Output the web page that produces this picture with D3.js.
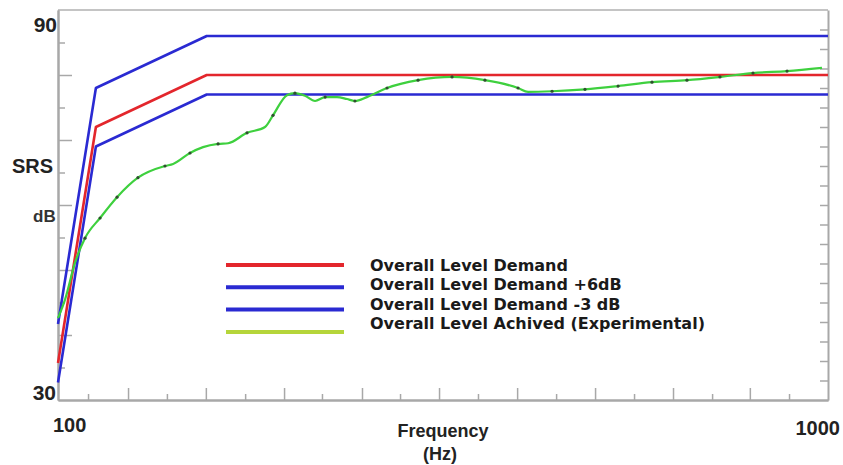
<!DOCTYPE html>
<html>
<head>
<meta charset="utf-8">
<script src="https://cdn.jsdelivr.net/npm/d3@7"></script>
<style>
body { margin: 0; background: #fff; }
svg { display: block; }
.lbl { font-family: "Liberation Sans", Arial, sans-serif; font-weight: bold; fill: #222; }
.leg { font-family: "DejaVu Sans", sans-serif; font-weight: bold; font-size: 16px; fill: #1a1a1a; }
</style>
</head>
<body>
<div id="chart"></div>
<script>
//
// SRS demand vs achieved level, log frequency axis
//

// demand profile: breakpoints (Hz) and levels (dB)
var demandFreq = [100, 112, 156, 1000];
var demandDb   = [35.7, 72, 80, 80];
var plus6Db    = [41.7, 78, 86, 86];
var minus3Db   = [32.7, 69, 77, 77];

// achieved (experimental) curve
var achievedFreq = [100, 102.1, 105.2, 108.4, 113.4, 119.3, 127.0, 137.7, 141.1, 148.4,
	154.3, 161.4, 166.3, 176.0, 185.7, 190.2, 198.3, 203.1, 209.3, 215.7,
	222.3, 230.3, 237.3, 243.0, 251.9, 267.5, 293.5, 324.9, 358.5, 395.8,
	407.8, 438.2, 483.5, 533.8, 590.8, 655.9, 723.9, 799.1, 884.7, 982.2];
var achievedDb = [42.6, 45.4, 51.1, 54.9, 58.0, 61.2, 64.2, 66.0, 66.3, 68.0,
	68.9, 69.4, 69.5, 71.1, 72.0, 73.8, 76.9, 77.2, 76.8, 76.0,
	76.6, 76.6, 76.3, 76.0, 76.6, 78.0, 79.2, 79.7, 79.2, 78.0,
	77.4, 77.5, 77.8, 78.3, 78.9, 79.2, 79.7, 80.3, 80.6, 81.1];
// points that carry a small dot marker
var markerFreq = [108.4, 113.4, 119.3, 127.0, 137.7, 148.4, 161.4, 176.0, 190.2, 203.1,
	222.3, 243.0, 267.5, 293.5, 324.9, 358.5, 395.8, 438.2, 483.5, 533.8,
	590.8, 655.9, 723.9, 799.1, 884.7];

// axis ticks
var yMajorTicks = [40, 50, 60, 70, 80];
var yMinorTicks = [35, 45, 55, 65, 75, 85];
var xMajorTicks = [123.3, 155.6, 196.6, 248.2, 312.5, 394.7, 498.3, 629.1, 791.6];
var xMinorTicks = [109.4, 138.5, 175.0, 220.2, 278.1, 351.1, 443.5, 559.9, 707.1, 890.0];
var rightTicks = d3.range(1, 20);

var legendLabels = ["Overall Level Demand", "Overall Level Demand +6dB",
	"Overall Level Demand -3 dB", "Overall Level Achived (Experimental)"];

var W = 843, H = 465;
var margin = {top: 10, right: 15, bottom: 65, left: 58};
var width = W - margin.left - margin.right;
var height = H - margin.top - margin.bottom;

var x = d3.scaleLog().domain([100, 1000]).range([0, width]);
var y = d3.scaleLinear().domain([30, 90]).range([height, 0]);
var yr = d3.scaleLinear().domain([0, 20]).range([height, 0]);

var svg = d3.select("#chart").append("svg")
	.attr("width", W)
	.attr("height", H);

var g = svg.append("g")
	.attr("transform", "translate(" + margin.left + "," + margin.top + ")");

var axisColor = "#a8a8a8";

// frame lines
g.append("line").attr("x1", 0).attr("x2", width).attr("y1", 0).attr("y2", 0)
	.attr("stroke", "#c4c4c4").attr("stroke-width", 2);

// axes with ticks pointing inward, no labels
function styleAxis(sel) {
	sel.select(".domain").attr("stroke", axisColor).attr("stroke-width", 2);
	sel.selectAll(".tick line").attr("stroke", axisColor).attr("stroke-width", 1.5);
	sel.selectAll(".tick text").remove();
}

g.append("g").call(d3.axisRight(y).tickValues(yMajorTicks).tickSize(14).tickSizeOuter(0)).call(styleAxis);
g.append("g").call(d3.axisRight(y).tickValues(yMinorTicks).tickSize(7).tickSizeOuter(0)).call(styleAxis);

// bottom axis
g.append("g").attr("transform", "translate(0," + height + ")")
	.call(d3.axisTop(x).tickValues(xMajorTicks).tickSize(12).tickSizeOuter(0)).call(styleAxis);
g.append("g").attr("transform", "translate(0," + height + ")")
	.call(d3.axisTop(x).tickValues(xMinorTicks).tickSize(6).tickSizeOuter(0)).call(styleAxis);

// right axis with its own fine ticks
g.append("g").attr("transform", "translate(" + width + ",0)")
	.call(d3.axisLeft(yr).tickValues(rightTicks).tickSize(8).tickSizeOuter(0)).call(styleAxis);

// demand lines
var line = d3.line()
	.x(function(d) { return x(d[0]); })
	.y(function(d) { return y(d[1]); });

var demandSeries = [
	{db: minus3Db, color: "#2a2ad2"},
	{db: plus6Db, color: "#2a2ad2"},
	{db: demandDb, color: "#e3262c"}
];

demandSeries.forEach(function(s) {
	g.append("path")
		.datum(demandFreq.map(function(f, i) { return [f, s.db[i]]; }))
		.attr("fill", "none")
		.attr("stroke", s.color)
		.attr("stroke-width", 2.6)
		.attr("stroke-linejoin", "round")
		.attr("d", line);
});

// achieved curve
var achieved = achievedFreq.map(function(f, i) { return [f, achievedDb[i]]; });

g.append("path")
	.datum(achieved)
	.attr("fill", "none")
	.attr("stroke", "#3ed03e")
	.attr("stroke-width", 2.2)
	.attr("d", line.curve(d3.curveMonotoneX));

g.selectAll(".mark")
	.data(achieved.filter(function(d) { return markerFreq.indexOf(d[0]) >= 0; }))
	.enter().append("circle")
	.attr("class", "mark")
	.attr("cx", function(d) { return x(d[0]); })
	.attr("cy", function(d) { return y(d[1]); })
	.attr("r", 1.6)
	.attr("fill", "#2f4f2f");

// legend: swatches and labels use slightly different row spacing, as in the original
var legendColors = ["#e3262c", "#2a2ad2", "#2a2ad2", "#b5d53a"];
var leg = svg.append("g").attr("transform", "translate(226,265)");

leg.selectAll("line")
	.data(legendLabels)
	.enter().append("line")
	.attr("x1", 0).attr("x2", 118)
	.attr("y1", function(d, i) { return i * 22.3; })
	.attr("y2", function(d, i) { return i * 22.3; })
	.attr("stroke", function(d, i) { return legendColors[i]; })
	.attr("stroke-width", 4);

leg.selectAll("text")
	.data(legendLabels)
	.enter().append("text")
	.attr("class", "leg")
	.attr("x", 144)
	.attr("y", function(d, i) { return 6 + i * 19.4; })
	.text(function(d) { return d; });

// axis labels
svg.append("text").attr("class", "lbl").attr("x", 57).attr("y", 32)
	.attr("text-anchor", "end").style("font-size", "21px").text("90");
svg.append("text").attr("class", "lbl").attr("x", 56).attr("y", 400)
	.attr("text-anchor", "end").style("font-size", "21px").text("30");
svg.append("text").attr("class", "lbl").attr("x", 53).attr("y", 432)
	.style("font-size", "20px").text("100");
svg.append("text").attr("class", "lbl").attr("x", 840).attr("y", 435)
	.attr("text-anchor", "end").style("font-size", "20px").text("1000");
svg.append("text").attr("class", "lbl").attr("x", 12).attr("y", 173)
	.style("font-size", "20px").text("SRS");
svg.append("text").attr("class", "lbl").attr("x", 33).attr("y", 222)
	.style("font-size", "17px").style("fill", "#333").text("dB");
svg.append("text").attr("class", "lbl").attr("x", 443).attr("y", 437)
	.attr("text-anchor", "middle").style("font-size", "18px").text("Frequency");
svg.append("text").attr("class", "lbl").attr("x", 440).attr("y", 460)
	.attr("text-anchor", "middle").style("font-size", "18px").text("(Hz)");
</script>
</body>
</html>
